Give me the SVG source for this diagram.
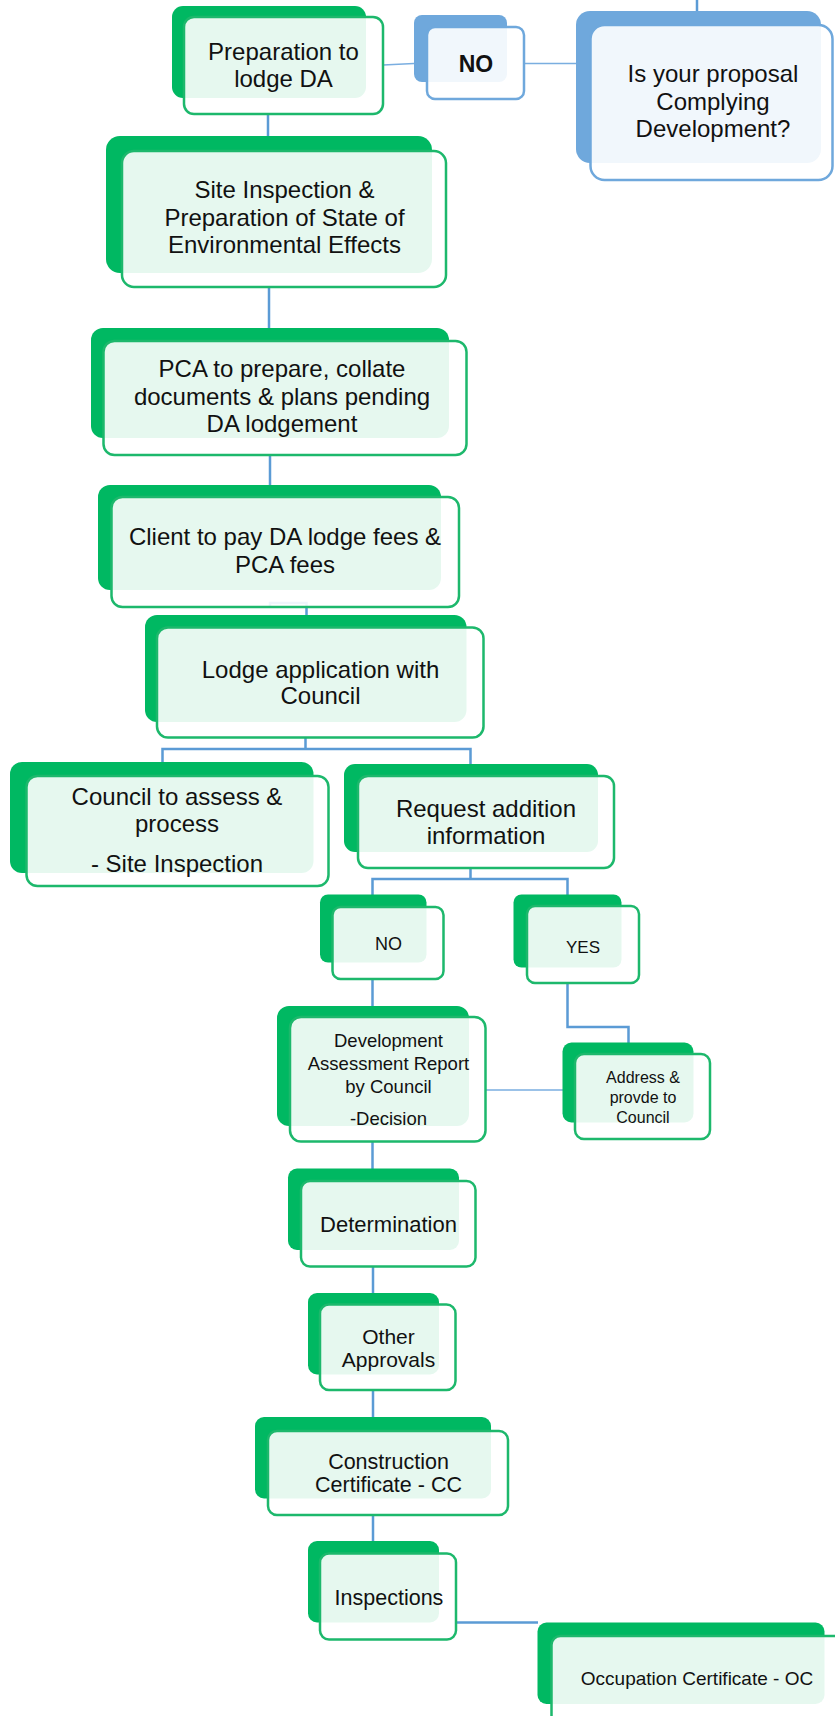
<svg xmlns="http://www.w3.org/2000/svg" width="835" height="1716" viewBox="0 0 835 1716">
<style>
.bk{fill:#00b862}
.fr{fill:#ffffff;fill-opacity:0.9;stroke:#1db86c;stroke-width:2.5}
.bkb{fill:#6fa8dc}
.frb{fill:#ffffff;fill-opacity:0.9;stroke:#6fa8dc;stroke-width:2.5}
.c{fill:none;stroke:#5b9bd5;stroke-width:2.5}
.ct{fill:none;stroke:#7aaee0;stroke-width:1.6}
text{font-family:"Liberation Sans",Arial,sans-serif;fill:#111;text-anchor:middle}
.t24{font-size:24px}
</style>
<rect width="835" height="1716" fill="#ffffff"/>
<g id="connectors">
<path class="c" d="M697,0 V12"/>
<path class="ct" d="M383,65 L414,63.5"/>
<path class="ct" d="M524,63.5 H577"/>
<path class="c" d="M268,114 V137"/>
<path class="c" d="M269,286 V329"/>
<path class="c" d="M270,455 V486"/>
<path class="c" d="M270,606 V603 H306.5 V616"/>
<path class="c" d="M305.5,737 V749 M162.5,762 V749 H470.5 V765"/>
<path class="c" d="M470.5,867 V879 M372.5,895 V879 H567.5 V895"/>
<path class="c" d="M372.5,979 V1006"/>
<path class="c" d="M567.5,983 V1027 H628.5 V1043"/>
<path class="ct" d="M485,1090 H563"/>
<path class="c" d="M372.5,1141 V1169"/>
<path class="c" d="M373,1266 V1293"/>
<path class="c" d="M373,1390 V1417"/>
<path class="c" d="M373,1515 V1542"/>
<path class="c" d="M455,1622.5 H538"/>
</g>
<g id="n-prep">
<rect class="bk" x="172" y="6" width="194" height="92" rx="11"/>
<rect class="fr" x="184" y="17" width="199" height="97" rx="10"/>
<text class="t24" x="283.5" y="60">Preparation to</text>
<text class="t24" x="283.5" y="87">lodge DA</text>
</g>
<g id="n-no-blue">
<rect class="bkb" x="414" y="15" width="93" height="67" rx="8"/>
<rect class="frb" x="427" y="27" width="97" height="72" rx="8"/>
<text x="476" y="72" style="font-size:23px;font-weight:bold">NO</text>
</g>
<g id="n-question">
<rect class="bkb" x="576" y="11" width="245" height="152" rx="14"/>
<rect class="frb" x="590.5" y="25" width="242" height="155" rx="14"/>
<text class="t24" x="713" y="82">Is your proposal</text>
<text class="t24" x="713" y="110">Complying</text>
<text class="t24" x="713" y="137">Development?</text>
</g>
<g id="n-site">
<rect class="bk" x="106" y="136" width="326" height="137" rx="14"/>
<rect class="fr" x="122" y="151" width="324" height="136" rx="12"/>
<text class="t24" x="284.5" y="198">Site Inspection &amp;</text>
<text class="t24" x="284.5" y="225.5">Preparation of State of</text>
<text class="t24" x="284.5" y="253">Environmental Effects</text>
</g>
<g id="n-pca">
<rect class="bk" x="91" y="328" width="358" height="110" rx="12"/>
<rect class="fr" x="103.5" y="341" width="363" height="114" rx="11"/>
<text class="t24" x="282" y="377">PCA to prepare, collate</text>
<text class="t24" x="282" y="405">documents &amp; plans pending</text>
<text class="t24" x="282" y="432">DA lodgement</text>
</g>
<g id="n-client">
<rect class="bk" x="98" y="485" width="343" height="105" rx="12"/>
<rect class="fr" x="111.5" y="497" width="347.5" height="110" rx="11"/>
<text class="t24" x="285" y="545">Client to pay DA lodge fees &amp;</text>
<text class="t24" x="285" y="573">PCA fees</text>
</g>
<g id="n-lodge">
<rect class="bk" x="145" y="615" width="321.5" height="107" rx="12"/>
<rect class="fr" x="157" y="627.5" width="326.5" height="110" rx="11"/>
<text class="t24" x="320.5" y="678">Lodge application with</text>
<text class="t24" x="320.5" y="704">Council</text>
</g>
<g id="n-council">
<rect class="bk" x="10" y="762" width="303.5" height="111" rx="12"/>
<rect class="fr" x="26.5" y="776" width="302" height="110" rx="11"/>
<text class="t24" x="177" y="805">Council to assess &amp;</text>
<text class="t24" x="177" y="832">process</text>
<text class="t24" x="177" y="872">- Site Inspection</text>
</g>
<g id="n-request">
<rect class="bk" x="344" y="764" width="254" height="88" rx="11"/>
<rect class="fr" x="358" y="776" width="256" height="92" rx="10"/>
<text class="t24" x="486" y="817">Request addition</text>
<text class="t24" x="486" y="843.5">information</text>
</g>
<g id="n-no">
<rect class="bk" x="320" y="894.5" width="106.5" height="68" rx="8"/>
<rect class="fr" x="332.5" y="907" width="111" height="72" rx="8"/>
<text x="388.5" y="950" style="font-size:18px">NO</text>
</g>
<g id="n-yes">
<rect class="bk" x="513.5" y="894.5" width="108" height="73" rx="8"/>
<rect class="fr" x="527" y="906" width="112" height="77" rx="8"/>
<text x="583" y="953" style="font-size:17px">YES</text>
</g>
<g id="n-dev">
<rect class="bk" x="277" y="1006" width="192" height="120" rx="12"/>
<rect class="fr" x="290" y="1017" width="195.5" height="124.5" rx="11"/>
<text x="388.5" y="1047" style="font-size:18.5px">Development</text>
<text x="388.5" y="1070" style="font-size:18.5px">Assessment Report</text>
<text x="388.5" y="1093" style="font-size:18.5px">by Council</text>
<text x="388.5" y="1125" style="font-size:18.5px">-Decision</text>
</g>
<g id="n-address">
<rect class="bk" x="562.5" y="1042.5" width="131" height="80" rx="9"/>
<rect class="fr" x="575" y="1054" width="135" height="85" rx="9"/>
<text x="643" y="1083" style="font-size:16px">Address &amp;</text>
<text x="643" y="1103" style="font-size:16px">provde to</text>
<text x="643" y="1123" style="font-size:16px">Council</text>
</g>
<g id="n-determination">
<rect class="bk" x="288" y="1168.5" width="171" height="81.5" rx="9"/>
<rect class="fr" x="301" y="1181" width="174.5" height="85.5" rx="9"/>
<text x="388.5" y="1232" style="font-size:22px">Determination</text>
</g>
<g id="n-other">
<rect class="bk" x="308" y="1293" width="131" height="81.5" rx="9"/>
<rect class="fr" x="320" y="1304.5" width="135.5" height="85.5" rx="9"/>
<text x="388.5" y="1343.5" style="font-size:21px">Other</text>
<text x="388.5" y="1367" style="font-size:21px">Approvals</text>
</g>
<g id="n-cc">
<rect class="bk" x="255" y="1417" width="236" height="81.5" rx="9"/>
<rect class="fr" x="268" y="1431" width="240" height="84" rx="9"/>
<text x="388.5" y="1468.5" style="font-size:21.5px">Construction</text>
<text x="388.5" y="1492" style="font-size:21.5px">Certificate - CC</text>
</g>
<g id="n-inspections">
<rect class="bk" x="308" y="1541" width="131" height="81.5" rx="9"/>
<rect class="fr" x="320" y="1553.5" width="136" height="86" rx="9"/>
<text x="389" y="1605" style="font-size:21.5px">Inspections</text>
</g>
<g id="n-oc">
<rect class="bk" x="537.5" y="1622.5" width="287" height="81.5" rx="9"/>
<rect class="fr" x="551.5" y="1636" width="300" height="95" rx="9"/>
<text x="697" y="1685" style="font-size:19px">Occupation Certificate - OC</text>
</g>
</svg>
